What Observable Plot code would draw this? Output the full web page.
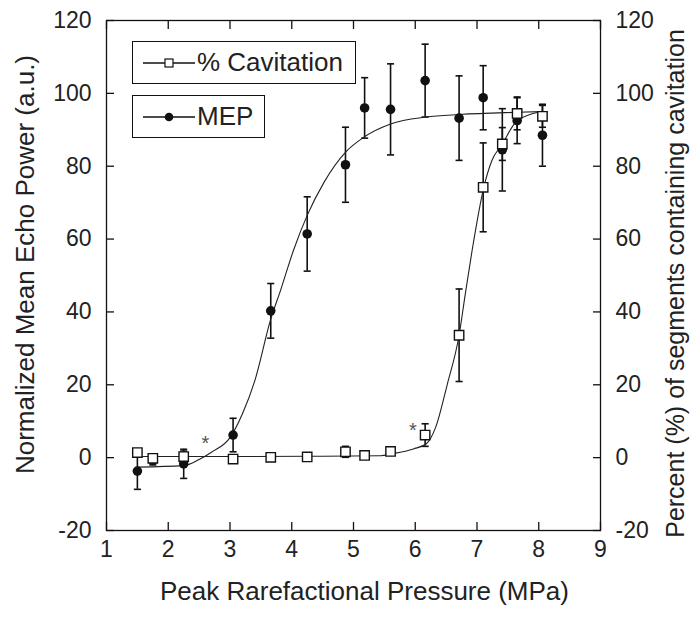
<!DOCTYPE html>
<html><head><meta charset="utf-8">
<script src="https://cdn.jsdelivr.net/npm/d3@7"></script>
<script src="https://cdn.jsdelivr.net/npm/@observablehq/plot@0.6"></script>
<style>
body{margin:0;background:#fff;}
#wrap{position:relative;width:691px;height:622px;font-family:"Liberation Sans",Arial,Helvetica,sans-serif;}
.leg{position:absolute;border:1.3px solid #111;background:#fff;display:flex;align-items:center;box-sizing:border-box;font-size:26px;color:#222;white-space:nowrap;}
.leg svg{margin-left:10px;margin-right:2px;}
</style></head><body><div id="wrap"></div>
<script>
// Peak rarefactional pressure (MPa)
const pressure = [1.5, 1.75, 2.25, 3.05, 3.66, 4.25, 4.87, 5.18, 5.6, 6.16, 6.71, 7.1, 7.41, 7.65, 8.06];
// Normalized mean echo power (MEP), filled circles
const mepValues = [-3.7, -0.8, -1.7, 6.2, 40.3, 61.4, 80.4, 96.0, 95.6, 103.5, 93.2, 98.8, 84.5, 92.5, 88.5];
const mepErrors = [5, 1.2, 4, 4.6, 7.5, 10.2, 10.3, 8.3, 12.5, 10, 11.6, 8.8, 11.3, 6.3, 8.5];
// % cavitation, open squares
const cavValues = [1.4, -0.2, 0.3, -0.4, 0.1, 0.2, 1.6, 0.6, 1.7, 6.2, 33.6, 74.2, 86.1, 94.5, 93.7];
const cavErrors = [0, 0, 1.5, 0, 0, 0, 1.5, 0, 0.8, 3.1, 12.7, 12.2, 4.5, 4.5, 3];
// fitted curves
const mepFitX = [1.5, 2.25, 2.5, 2.7, 3.0, 3.2, 3.4, 3.66, 3.82, 4.03, 4.25, 4.52, 4.88, 5.17, 5.6, 6.17, 6.72, 7.65, 8.06];
const mepFitY = [-2.6, -2.2, -0.5, 1.5, 5.5, 12, 21, 38, 46, 57, 66.5, 75.5, 84, 88, 91.6, 93.5, 94.2, 94.8, 95];
const cavFitX = [1.5, 3.0, 4.5, 5.44, 5.61, 5.97, 6.18, 6.33, 6.52, 6.71, 6.81, 6.92, 7.11, 7.24, 7.41, 7.65, 8.06];
const cavFitY = [0.3, 0.3, 0.4, 0.5, 1.0, 2.4, 3.8, 8.3, 20.2, 33.6, 44.9, 56.8, 74.2, 81.5, 86.1, 92.5, 95];
const xTicks = [1, 2, 3, 4, 5, 6, 7, 8, 9];
const yTicks = [-20, 0, 20, 40, 60, 80, 100, 120];
const starX = [2.6, 5.96];
const starY = [3.8, 7.4];
const xLabel = "Peak Rarefactional Pressure (MPa)";
const yLabelLeft = "Normalized Mean Echo Power (a.u.)";
const yLabelRight = "Percent (%) of segments containing cavitation";
const legendLabels = ["% Cavitation", "MEP"];

const mep = pressure.map((x, i) => ({x, y: mepValues[i], lo: mepValues[i] - mepErrors[i], hi: mepValues[i] + mepErrors[i], e: mepErrors[i]}));
const cav = pressure.map((x, i) => ({x, y: cavValues[i], lo: cavValues[i] - cavErrors[i], hi: cavValues[i] + cavErrors[i], e: cavErrors[i]}));
const mepFit = mepFitX.map((x, i) => ({x, y: mepFitY[i]}));
const cavFit = cavFitX.map((x, i) => ({x, y: cavFitY[i]}));
const stars = starX.map((x, i) => ({x, y: starY[i]}));
const bars = [...mep, ...cav].filter(d => d.e > 0);
const caps = bars.flatMap(d => [{x: d.x, y: d.lo}, {x: d.x, y: d.hi}]);
const capSymbol = {draw(ctx, size) { const w = Math.sqrt(size); ctx.moveTo(-w / 2, 0); ctx.lineTo(w / 2, 0); }};
const fmt = d => String(d);

const ink = "#111";
const chart = Plot.plot({
  width: 691, height: 622,
  marginLeft: 106, marginRight: 91, marginTop: 20, marginBottom: 92,
  style: {fontFamily: '"Liberation Sans", Arial, Helvetica, sans-serif', color: "#222", background: "#fff"},
  x: {domain: [1, 9]},
  y: {domain: [-20, 120]},
  marks: [
    Plot.frame({stroke: ink, strokeWidth: 1.3}),
    Plot.axisY({ticks: yTicks, tickFormat: fmt, anchor: "left", tickSize: -8, tickPadding: 23, fontSize: 23, label: null, stroke: ink, strokeWidth: 1.3}),
    Plot.axisY({ticks: yTicks, tickFormat: fmt, anchor: "right", tickSize: -8, tickPadding: 23, fontSize: 23, label: null, stroke: ink, strokeWidth: 1.3}),
    Plot.axisX({ticks: xTicks, tickFormat: fmt, anchor: "bottom", tickSize: -8, tickPadding: 18, fontSize: 23, label: null, stroke: ink, strokeWidth: 1.3}),
    Plot.axisX({ticks: xTicks, anchor: "top", tickSize: -8, tickFormat: () => "", label: null, stroke: ink, strokeWidth: 1.3}),
    Plot.text([xLabel], {frameAnchor: "bottom", textAnchor: "middle", dx: 11, dy: 69, fontSize: 26, fill: "#222"}),
    Plot.text([yLabelLeft], {frameAnchor: "left", textAnchor: "middle", dx: -81, dy: -11, rotate: -90, fontSize: 26, fill: "#222"}),
    Plot.text([yLabelRight], {frameAnchor: "right", textAnchor: "middle", dx: 75, dy: 8, rotate: -90, fontSize: 25, fill: "#222"}),
    Plot.ruleX(bars, {x: "x", y1: "lo", y2: "hi", stroke: ink, strokeWidth: 1.6}),
    Plot.dot(caps, {x: "x", y: "y", symbol: capSymbol, r: 4, stroke: ink, strokeWidth: 1.6, fill: "none"}),
    Plot.line(mepFit, {x: "x", y: "y", curve: "monotone-x", stroke: "#222", strokeWidth: 1.1}),
    Plot.line(cavFit, {x: "x", y: "y", curve: "monotone-x", stroke: "#222", strokeWidth: 1.1}),
    Plot.text(stars, {x: "x", y: "y", text: () => "*", fontSize: 20, fill: "#555"}),
    Plot.dot(mep, {x: "x", y: "y", r: 4.8, fill: ink, stroke: "none", symbol: "circle"}),
    Plot.dot(cav, {x: "x", y: "y", r: 5.3, fill: "#fff", stroke: ink, strokeWidth: 1.4, symbol: "square"})
  ]
});
const wrap = document.getElementById("wrap");
wrap.appendChild(chart);

function legendBox(label, left, top, w, h, marker) {
  const div = document.createElement("div");
  div.className = "leg";
  Object.assign(div.style, {left: left + "px", top: top + "px", width: w + "px", height: h + "px"});
  const ns = "http://www.w3.org/2000/svg";
  const s = document.createElementNS(ns, "svg");
  s.setAttribute("width", 52); s.setAttribute("height", 14);
  const l = document.createElementNS(ns, "line");
  l.setAttribute("x1", 0); l.setAttribute("x2", 52); l.setAttribute("y1", 7); l.setAttribute("y2", 7);
  l.setAttribute("stroke", ink); l.setAttribute("stroke-width", 1.3);
  s.appendChild(l);
  if (marker === "square") {
    const r = document.createElementNS(ns, "rect");
    r.setAttribute("x", 22); r.setAttribute("y", 3); r.setAttribute("width", 8); r.setAttribute("height", 8);
    r.setAttribute("fill", "#fff"); r.setAttribute("stroke", ink); r.setAttribute("stroke-width", 1.2);
    s.appendChild(r);
  } else {
    const c = document.createElementNS(ns, "circle");
    c.setAttribute("cx", 26); c.setAttribute("cy", 7); c.setAttribute("r", 4.3); c.setAttribute("fill", ink);
    s.appendChild(c);
  }
  div.appendChild(s);
  const t = document.createElement("span");
  t.textContent = label;
  div.appendChild(t);
  wrap.appendChild(div);
}
legendBox(legendLabels[0], 132, 41, 224, 43, "square");
legendBox(legendLabels[1], 132, 95, 133, 43, "circle");
</script>
</body></html>
